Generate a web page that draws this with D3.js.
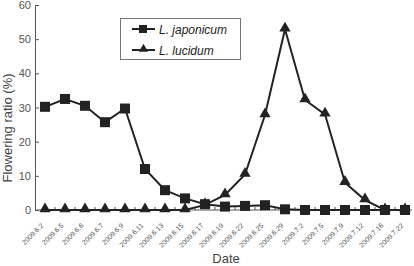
<!DOCTYPE html>
<html>
<head>
<meta charset="utf-8">
<script src="https://cdn.jsdelivr.net/npm/d3@7"></script>
<style>
body { margin: 0; background: #fff; }
text { font-family: "Liberation Sans", Arial, sans-serif; }
</style>
</head>
<body>
<div id="box1"></div>
<script>
var dates = ["2009.6.2", "2009.6.5", "2009.6.6", "2009.6.7", "2009.6.9", "2009.6.11", "2009.6.13",
    "2009.6.15", "2009.6.17", "2009.6.19", "2009.6.22", "2009.6.25", "2009.6.29", "2009.7.2",
    "2009.7.5", "2009.7.9", "2009.7.12", "2009.7.16", "2009.7.22"];
var japonicum = [30.2, 32.5, 30.5, 25.7, 29.7, 12, 5.8, 3.4, 1.7, 1, 1.2, 1.4, 0.2, 0, 0, 0, 0, 0, 0];
var lucidum = [0, 0, 0, 0, 0, 0, 0, 0, 1.5, 4.4, 10.4, 27.8, 52.9, 32.2, 28, 8, 2.9, 0, 0];
var yTicks = [0, 10, 20, 30, 40, 50, 60];

document.addEventListener("DOMContentLoaded", function(e) {
    chart1();
});

function chart1(){
    var width = 414;
    var height = 266;
    var svg = d3.select("#box1")
        .append("svg")
        .attr("width", width)
        .attr("height", height);

    var left = 35, right = 412, top = 5, bottom = 210;

    var x = d3.scalePoint()
        .domain(dates)
        .range([45, 405]);
    var y = d3.scaleLinear()
        .domain([0, 60])
        .range([bottom, top]);

    // y axis
    var yAxis = svg.append("g")
        .attr("transform", "translate(" + left + ",0)")
        .call(d3.axisLeft(y).tickValues(yTicks).tickSizeInner(-4).tickSizeOuter(0).tickPadding(4));
    yAxis.select(".domain").attr("stroke", "#555");
    yAxis.selectAll(".tick line").attr("stroke", "#555");
    yAxis.selectAll("text").attr("fill", "#555").style("font-size", "11px");

    // x axis
    var xAxis = svg.append("g")
        .attr("transform", "translate(0," + bottom + ")");
    xAxis.append("line")
        .attr("x1", left).attr("x2", right)
        .attr("y1", 0).attr("y2", 0)
        .attr("stroke", "#555");
    dates.forEach(function(d){
        xAxis.append("line")
            .attr("x1", x(d) + 10).attr("x2", x(d) + 10)
            .attr("y1", 0).attr("y2", -3)
            .attr("stroke", "#555");
        xAxis.append("text")
            .attr("transform", "translate(" + (x(d) - 1) + ",16) rotate(-45)")
            .attr("text-anchor", "end")
            .attr("fill", "#555")
            .style("font-size", "7px")
            .text(d);
    });

    // axis titles
    svg.append("text")
        .attr("transform", "translate(12,128) rotate(-90)")
        .attr("text-anchor", "middle")
        .attr("fill", "#444")
        .style("font-size", "13px")
        .text("Flowering ratio (%)");
    svg.append("text")
        .attr("x", 226)
        .attr("y", 263)
        .attr("text-anchor", "middle")
        .attr("fill", "#444")
        .style("font-size", "13px")
        .text("Date");

    var line = d3.line()
        .x(function(d, i){ return x(dates[i]); })
        .y(function(d){ return y(d); });

    var tri = d3.symbol().type(d3.symbolTriangle).size(56);

    // lucidum
    svg.append("path")
        .datum(lucidum)
        .attr("d", line)
        .attr("fill", "none")
        .attr("stroke", "#222")
        .attr("stroke-width", 2);
    svg.selectAll(".tri")
        .data(lucidum)
        .enter().append("path")
        .attr("class", "tri")
        .attr("d", tri)
        .attr("transform", function(d, i){ return "translate(" + x(dates[i]) + "," + (y(d) - 1) + ")"; })
        .attr("fill", "#222");

    // japonicum
    svg.append("path")
        .datum(japonicum)
        .attr("d", line)
        .attr("fill", "none")
        .attr("stroke", "#222")
        .attr("stroke-width", 2);
    svg.selectAll(".sq")
        .data(japonicum)
        .enter().append("rect")
        .attr("class", "sq")
        .attr("x", function(d, i){ return x(dates[i]) - 5; })
        .attr("y", function(d){ return y(d) - 5; })
        .attr("width", 10)
        .attr("height", 10)
        .attr("fill", "#222");

    // legend
    var lg = svg.append("g");
    lg.append("rect")
        .attr("x", 120.5).attr("y", 18.5)
        .attr("width", 120).attr("height", 41)
        .attr("fill", "#fff")
        .attr("stroke", "#777");
    lg.append("line")
        .attr("x1", 132).attr("x2", 155).attr("y1", 29).attr("y2", 29)
        .attr("stroke", "#222").attr("stroke-width", 2);
    lg.append("rect")
        .attr("x", 139).attr("y", 25).attr("width", 8).attr("height", 8)
        .attr("fill", "#222");
    lg.append("line")
        .attr("x1", 132).attr("x2", 155).attr("y1", 50).attr("y2", 50)
        .attr("stroke", "#222").attr("stroke-width", 2);
    lg.append("path")
        .attr("d", d3.symbol().type(d3.symbolTriangle).size(36))
        .attr("transform", "translate(143.5,49)")
        .attr("fill", "#222");
    lg.append("text")
        .attr("x", 159).attr("y", 33.5)
        .style("font-size", "12px").style("font-style", "italic")
        .attr("fill", "#222")
        .text("L. japonicum");
    lg.append("text")
        .attr("x", 159).attr("y", 54.5)
        .style("font-size", "12px").style("font-style", "italic")
        .attr("fill", "#222")
        .text("L. lucidum");
}
</script>
</body>
</html>
